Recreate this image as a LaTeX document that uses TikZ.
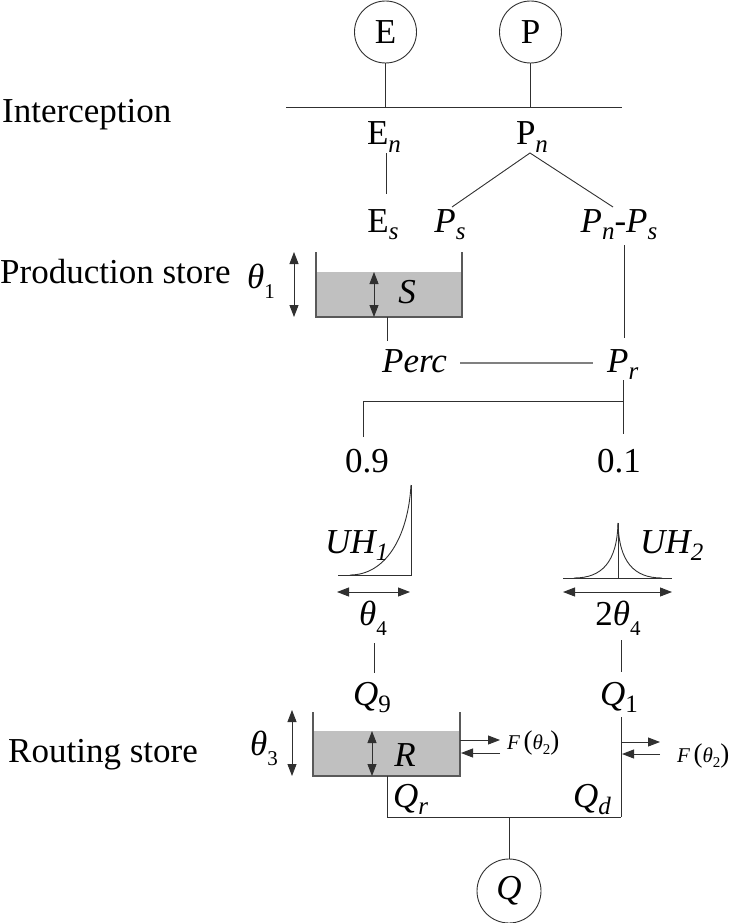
\documentclass[tikz,border=0pt]{standalone}
\usepackage{fontspec}
\setmainfont{Liberation Serif}
\usetikzlibrary{arrows.meta}
\newcommand{\mysub}[2][25]{\raisebox{-0.22em}{\fontsize{#1}{#1}\selectfont #2}}
\newcommand{\myth}[1]{{\itshape θ}\raisebox{-0.3em}{\fontsize{21}{21}\selectfont #1}}
\definecolor{ln}{HTML}{303030}
\definecolor{storefill}{HTML}{C0C0C0}
\begin{document}
\begin{tikzpicture}[x=1pt,y=-1pt,
  every node/.style={inner sep=0pt,font=\fontsize{35}{35}\selectfont},
  lbl/.style={anchor=base},
  lblw/.style={anchor=base west},
  small/.style={font=\fontsize{21}{21}\selectfont},
  wire/.style={draw=ln,line width=0.9pt},
  grayline/.style={draw=black!50,line width=1.6pt},
  dbl/.style={wire,{Triangle[length=12pt,width=9pt]}-{Triangle[length=12pt,width=9pt]}},
  onearrow/.style={wire,-{Triangle[length=12pt,width=9pt]}},
  circ/.style={circle,draw=ln,line width=0.9pt,minimum size=62pt},
  storeline/.style={draw=black!65,line width=1.2pt}
]
\useasboundingbox (0,0) rectangle (735,923);

% inputs
\node[circ] (E) at (385.5,32) {E};
\node[circ] (P) at (530.5,32) {P};
\coordinate (hlL) at (286,107);
\coordinate (hlR) at (622,107);
\draw[wire] (hlL) -- (hlR);
\draw[wire] (E) -- (E |- hlL);
\draw[wire] (P) -- (P |- hlL);

\node[lblw] (interc) at (2,122) {Interception};
\node[lbl] (En) at (384,145) {E\mysub{\itshape n}};
\node[lbl] (Pn) at (532,145) {P\mysub{\itshape n}};
\node[lbl] (Es) at (383,232) {E\mysub{\itshape s}};
\node[lbl] (Ps) at (450,232) {{\itshape P}\mysub{\itshape s}};
\node[lbl] (PnPs) at (619,232) {{\itshape P}\mysub{\itshape n}-{\itshape P}\mysub{\itshape s}};

\coordinate (enbot) at (386,153);
\coordinate (estop) at (386,194);
\draw[wire] (enbot) -- (estop);
\coordinate (apex) at (530,153);
\coordinate (pstop) at (452,207);
\coordinate (pnpstop) at (613,207);
\draw[wire] (pstop) -- (apex) -- (pnpstop);
\coordinate (pnpsbot) at (624,245);
\coordinate (prtop) at (624,338);
\draw[wire] (pnpsbot) -- (prtop);

% production store
\node[lblw] (prodlbl) at (0,283) {Production store};
\node[lblw] (th1) at (247,288) {\myth{1}};
\fill[storefill] (316,272) rectangle (462,317);
\draw[storeline] (316,252) -- (316,317) -- (462,317) -- (462,252);
\coordinate (sTop) at (374,272);
\coordinate (sBot) at (374,317);
\draw[dbl] (sTop) -- (sBot);
\coordinate (pTop) at (294,252);
\coordinate (pBot) at (294,317);
\draw[dbl] (pTop) -- (pBot);
\node[lbl] (S) at (407,303) {\itshape S};

\coordinate (percTop) at (387,317);
\coordinate (percBot) at (387,341);
\draw[wire] (percTop) -- (percBot);
\node[lblw] (Perc) at (382,372) {\itshape Perc};
\node[lblw] (Pr) at (607,372) {{\itshape P}\mysub{\itshape r}};
\draw[grayline] ([xshift=13pt]Perc.east |- 0,363) -- ([xshift=-14pt]Pr.west |- 0,363);

% split
\coordinate (prBot) at (623,380);
\coordinate (splitR) at (623,401);
\coordinate (splitL) at (363,401);
\coordinate (s01) at (623,434);
\coordinate (s09) at (363,437);
\draw[wire] (prBot) -- (s01);
\draw[wire] (s09) -- (splitL) -- (splitR);
\node[lbl] (n09) at (367,472) {0.9};
\node[lbl] (n01) at (619,472) {0.1};

% UH1
\coordinate (uh1top) at (411,485);
\coordinate (uh1corner) at (411,575);
\coordinate (uh1left) at (338,575);
\draw[wire] (uh1top) -- (uh1corner) -- (uh1left);
\draw[wire] (350,575) .. controls (385,575) and (408,538) .. (uh1top);
\node[lblw] (UH1) at (325,553) {{\itshape UH}\mysub{\itshape 1}};
\coordinate (a1L) at (337,592);
\coordinate (a1R) at (410,592);
\draw[dbl] (a1L) -- (a1R);
\node[lbl] (th4) at (373,625) {\myth{4}};

% UH2
\coordinate (uh2L) at (563,578);
\coordinate (uh2R) at (672,578);
\coordinate (uh2peak) at (618,523);
\coordinate (uh2base) at (618,578);
\draw[wire] (uh2L) -- (uh2R);
\draw[wire] (uh2peak) -- (uh2base);
\draw[wire] (574,578) .. controls (602,578) and (617,562) .. (uh2peak);
\draw[wire] (662,578) .. controls (634,578) and (619,562) .. (uh2peak);
\node[lblw] (UH2) at (640,553) {{\itshape UH}\mysub{\itshape 2}};
\coordinate (a2L) at (563,592);
\coordinate (a2R) at (672,592);
\draw[dbl] (a2L) -- (a2R);
\node[lbl] (tth4) at (618,625) {2\myth{4}};

% to routing
\coordinate (q9top) at (374,643);
\coordinate (q9bot) at (374,673);
\draw[wire] (q9top) -- (q9bot);
\coordinate (q1top) at (621,640);
\coordinate (q1bot) at (621,672);
\draw[wire] (q1top) -- (q1bot);
\node[lblw] (Q9) at (353,705) {{\itshape Q}\mysub{9}};
\node[lblw] (Q1) at (600,705) {{\itshape Q}\mysub{1}};

% routing store
\node[lblw] (routlbl) at (8,762) {Routing store};
\node[lblw] (th3) at (250,755) {\myth{3}};
\fill[storefill] (313,731) rectangle (460,776);
\draw[storeline] (313,712) -- (313,776) -- (460,776) -- (460,712);
\coordinate (rTop) at (372,731);
\coordinate (rBot) at (372,776);
\draw[dbl] (rTop) -- (rBot);
\coordinate (roTop) at (292,710);
\coordinate (roBot) at (292,776);
\draw[dbl] (roTop) -- (roBot);
\node[lbl] (R) at (405,766) {\itshape R};

\node[lblw,small] (F1) at (507,749) {{\itshape F}\,{\fontsize{27}{27}\selectfont (}{\itshape θ}\raisebox{-0.25em}{\fontsize{15}{15}\selectfont 2}{\fontsize{27}{27}\selectfont )}};
\coordinate (f1a) at (460,740);
\coordinate (f1b) at (500,740);
\coordinate (f1c) at (500,753);
\coordinate (f1d) at (461,753);
\draw[onearrow] (f1a) -- (f1b);
\draw[onearrow] (f1c) -- (f1d);

\coordinate (rvTop) at (621,717);
\coordinate (rvBot) at (621,817);
\draw[wire] (rvTop) -- (rvBot);
\node[lblw,small] (F2) at (677,762) {{\itshape F}\,{\fontsize{27}{27}\selectfont (}{\itshape θ}\raisebox{-0.25em}{\fontsize{15}{15}\selectfont 2}{\fontsize{27}{27}\selectfont )}};
\coordinate (f2a) at (621,742);
\coordinate (f2b) at (660,742);
\coordinate (f2c) at (660,754);
\coordinate (f2d) at (622,754);
\draw[onearrow] (f2a) -- (f2b);
\draw[onearrow] (f2c) -- (f2d);

\coordinate (qrTop) at (387,776);
\coordinate (qrBot) at (387,817);
\coordinate (qjoin) at (509,817);
\draw[wire] (qrTop) -- (qrBot) -- (rvBot);
\node[lblw] (Qr) at (393,807) {{\itshape Q}\mysub{\itshape r}};
\node[lblw] (Qd) at (573,807) {{\itshape Q}\mysub{\itshape d}};

\node[circ,minimum size=64pt] (Q) at (509,891) {\itshape Q};
\draw[wire] (qjoin) -- (Q);
\end{tikzpicture}
\end{document}
